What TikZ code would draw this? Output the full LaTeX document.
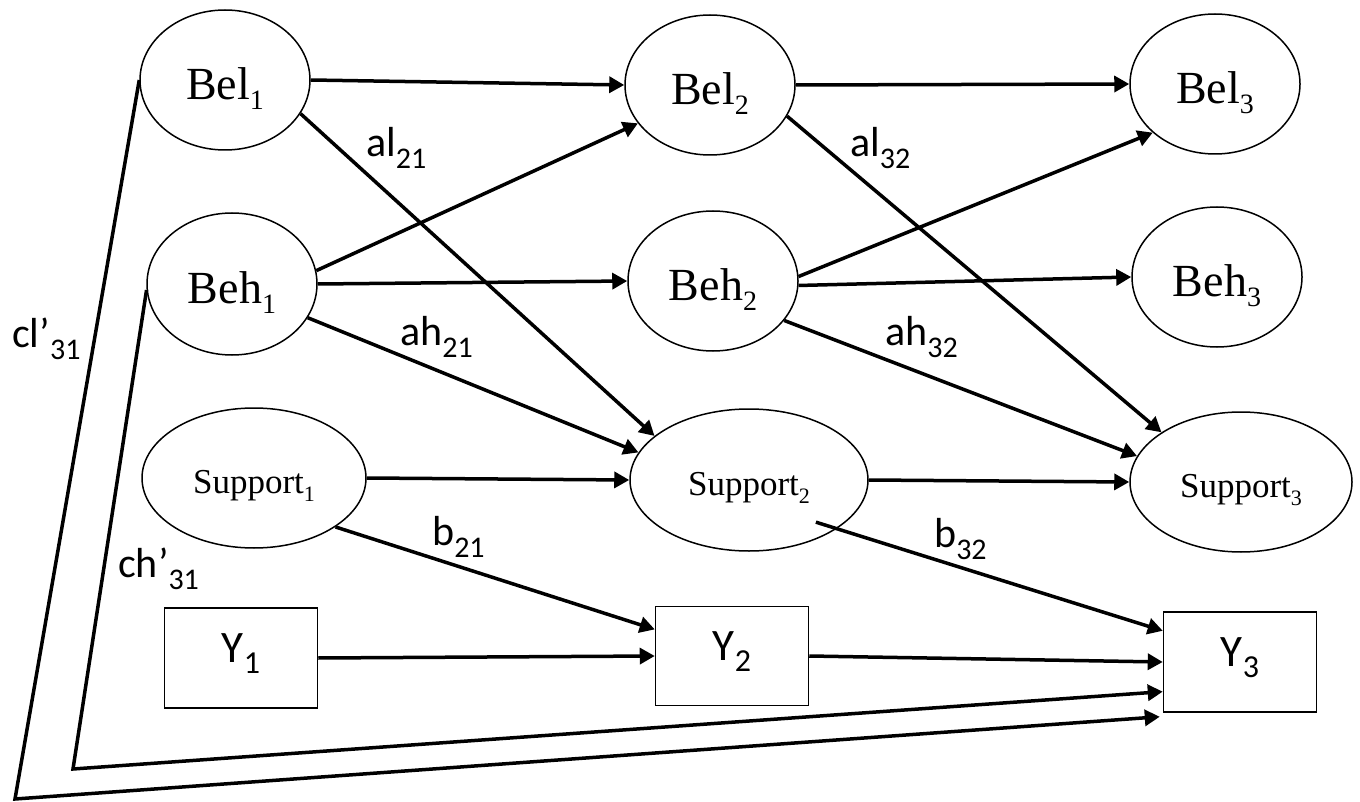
\documentclass[tikz,border=0pt]{standalone}
\usepackage{fontspec}
\setmainfont{Liberation Serif}
\newfontfamily\lab{Carlito}
\usetikzlibrary{shapes.geometric,arrows.meta,calc}
\newcommand{\ssub}[3][28]{\raisebox{-#2pt}{\fontsize{#1}{#1}\selectfont #3}}
\begin{document}
\begin{tikzpicture}[x=1pt,y=-1pt,
  ell/.style={draw, ellipse, line width=1.5pt, inner sep=0pt, text height=40pt, text depth=0pt, font=\fontsize{46}{50}\selectfont},
  sell/.style={ell, text height=30pt, font=\fontsize{35}{38}\selectfont},
  box/.style={draw, rectangle, line width=1.5pt, minimum width=153pt, minimum height=100pt, inner sep=0pt, text height=9pt, text depth=0pt, font=\lab\fontsize{45}{48}\selectfont},
  arr/.style={line width=3.5pt, -{Triangle[length=15pt,width=16pt]}},
  lbl/.style={anchor=base west, inner sep=0pt, font=\lab\fontsize{42}{44}\selectfont}]
\useasboundingbox (0,0) rectangle (1360,802);
% column 1
\node[ell, minimum width=170pt, minimum height=140pt] (bel1) at (225,80) {Bel\ssub{10}{1}};
\node[ell, minimum width=170pt, minimum height=142pt] (beh1) at (232,284) {Beh\ssub{10}{1}};
\node[sell, minimum width=224pt, minimum height=140pt] (sup1) at (254,478) {Support\ssub[22]{8}{1}};
\node[box] (y1) at (241,658) {Y\ssub[32]{11}{1}};
% column 2
\node[ell, minimum width=170pt, minimum height=140pt] (bel2) at (710,85) {Bel\ssub{10}{2}};
\node[ell, minimum width=170pt, minimum height=140pt] (beh2) at (713,281) {Beh\ssub{10}{2}};
\node[sell, minimum width=238pt, minimum height=142pt] (sup2) at (749,480) {Support\ssub[22]{8}{2}};
\node[box, minimum height=99pt] (y2) at (732,656) {Y\ssub[32]{11}{2}};
% column 3
\node[ell, minimum width=170pt, minimum height=140pt] (bel3) at (1215,84) {Bel\ssub{10}{3}};
\node[ell, minimum width=170pt, minimum height=140pt] (beh3) at (1217,277) {Beh\ssub{10}{3}};
\node[sell, minimum width=222pt, minimum height=140pt] (sup3) at (1241,482) {Support\ssub[22]{8}{3}};
\node[box] (y3) at (1240,662) {Y\ssub[32]{11}{3}};
% labels
\node[lbl] (lal21) at (366,157) {al\ssub[30]{12}{21}};
\node[lbl] (lah21) at (400,345) {ah\ssub[30]{12}{21}};
\node[lbl] (lb21) at (432,545) {b\ssub[30]{12}{21}};
\node[lbl] (lal32) at (850,157) {al\ssub[30]{12}{32}};
\node[lbl] (lah32) at (885,345) {ah\ssub[30]{12}{32}};
\node[lbl] (lb32) at (934,547) {b\ssub[30]{12}{32}};
\node[lbl] (lcl) at (12,348) {cl’\ssub[30]{12}{31}};
\node[lbl] (lch) at (118,577) {ch’\ssub[30]{12}{31}};
% bends
\coordinate (kh) at (73,769);
\coordinate (kl) at (15,799);
% arrows
\draw[arr] (bel1.east) -- (bel2.west);
\draw[arr] (bel1.-24.4) -- (sup2.155);
\draw[arr] (beh1.9.4) -- (bel2.208);
\draw[arr] (beh1.east) -- (beh2.west);
\draw[arr] (beh1.-24.8) -- (sup2.166.2);
\draw[arr] (sup1.east) -- (sup2.west);
\draw[arr] (sup1.-31.7) -- (y2.161);
\draw[arr] (y1.east) -- (y2.west);
\draw[arr] (bel2.east) -- (bel3.west);
\draw[arr] (bel2.-22.9) -- (sup3.148.3);
\draw[arr] (beh2.3) -- (bel3.218.8);
\draw[arr] (beh2.-3) -- (beh3.west);
\draw[arr] (beh2.-29.5) -- (sup3.166.4);
\draw[arr] (sup2.east) -- (sup3.west);
\draw[arr, shorten <=-22pt] (sup2.-29.2) -- (y3.158);
\draw[arr] (y2.east) -- (y3.west);
\draw[arr] (beh1.184) -- (kh) -- (y3.201);
\draw[arr] (bel1.west) -- (kl) -- ($(y3.south west)+(-3,4)$);
\end{tikzpicture}
\end{document}
